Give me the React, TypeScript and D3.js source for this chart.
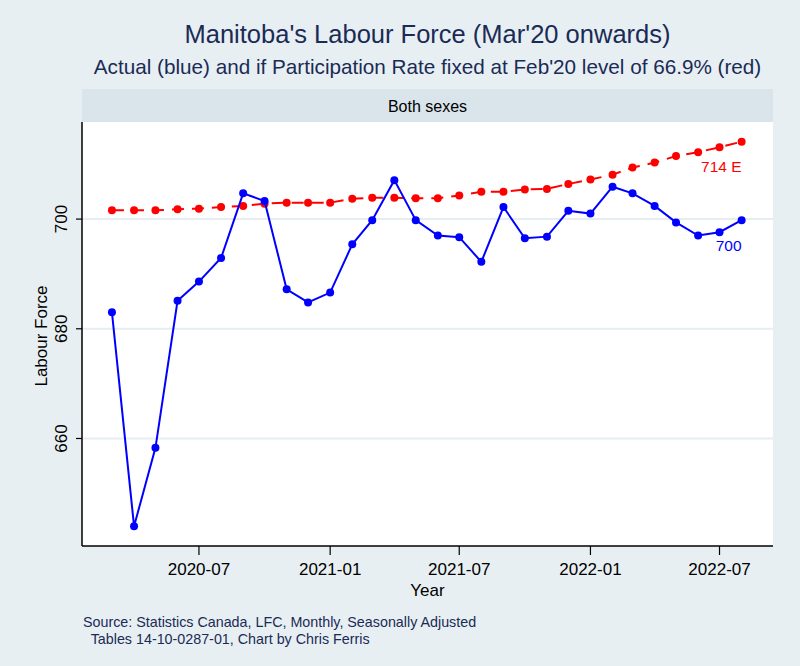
import React from 'react';
import * as d3 from 'd3';

// monthly observations, Mar 2020 .. Aug 2022
const months = [
  '2020-03', '2020-04', '2020-05', '2020-06', '2020-07', '2020-08', '2020-09', '2020-10',
  '2020-11', '2020-12', '2021-01', '2021-02', '2021-03', '2021-04', '2021-05', '2021-06',
  '2021-07', '2021-08', '2021-09', '2021-10', '2021-11', '2021-12', '2022-01', '2022-02',
  '2022-03', '2022-04', '2022-05', '2022-06', '2022-07', '2022-08',
];

// actual labour force (thousands)
const actual = [
  683.0, 644.0, 658.3, 685.1, 688.6, 692.9, 704.7, 703.3, 687.2, 684.8, 686.6, 695.4,
  699.8, 707.1, 699.8, 697.0, 696.7, 692.2, 702.2, 696.5, 696.8, 701.5, 701.0, 705.9,
  704.7, 702.4, 699.4, 697.0, 697.6, 699.8,
];

// labour force if participation rate fixed at Feb'20 level
const fixedRate = [
  701.6, 701.6, 701.6, 701.8, 701.9, 702.2, 702.4, 702.8, 703.0, 703.0, 703.0, 703.7,
  703.9, 703.9, 703.8, 703.8, 704.3, 705.0, 705.0, 705.4, 705.5, 706.4, 707.2, 708.1,
  709.4, 710.3, 711.5, 712.2, 713.1, 714.1,
];

const yTicks = [660, 680, 700];
const xTicks = ['2020-07', '2021-01', '2021-07', '2022-01', '2022-07'];

const title = "Manitoba's Labour Force (Mar'20 onwards)";
const subtitle = "Actual (blue) and if Participation Rate fixed at Feb'20 level of 66.9% (red)";
const stripLabel = 'Both sexes';
const sourceLines = [
  'Source: Statistics Canada, LFC, Monthly, Seasonally Adjusted',
  '  Tables 14-10-0287-01, Chart by Chris Ferris',
];

const W = 800;
const H = 666;
const FONT = '"Liberation Sans", Arial, Helvetica, sans-serif';
const NAVY = '#1a2b56';

const parseMonth = (s: string) => {
  const [y, m] = s.split('-').map(Number);
  return new Date(Date.UTC(y, m - 1, 1));
};

const App: React.FC = () => {
  const plot = { left: 82, right: 773, top: 122, bottom: 546 };

  const x = d3
    .scaleUtc()
    .domain([new Date(Date.UTC(2020, 0, 19)), new Date(Date.UTC(2022, 8, 14))])
    .range([plot.left, plot.right]);

  const y = d3.scaleLinear().domain([640.4, 717.7]).range([plot.bottom, plot.top]);

  const dates = months.map(parseMonth);
  const line = d3
    .line<number>()
    .x((_, i) => x(dates[i]))
    .y(d => y(d));

  const fmt = d3.utcFormat('%Y-%m');
  const cx = (plot.left + plot.right) / 2;
  const last = months.length - 1;

  return (
    <svg width={W} height={H} style={{ display: 'block', position: 'absolute', left: 0, top: 0 }} fontFamily={FONT}>
      <rect x={0} y={0} width={W} height={H} fill="#e8eff2" />

      <text x={cx} y={43} textAnchor="middle" fontSize={25.5} fill={NAVY}>{title}</text>
      <text x={cx} y={74} textAnchor="middle" fontSize={20.7} fill={NAVY}>{subtitle}</text>

      {/* facet strip */}
      <rect x={plot.left} y={89} width={plot.right - plot.left} height={plot.top - 89} fill="#d9e5eb" />
      <text x={cx} y={112} textAnchor="middle" fontSize={16} fill="#000">{stripLabel}</text>

      {/* plot region */}
      <rect x={plot.left} y={plot.top} width={plot.right - plot.left} height={plot.bottom - plot.top} fill="#fff" />

      {yTicks.map(t => (
        <line key={`g${t}`} x1={plot.left} x2={plot.right} y1={y(t)} y2={y(t)} stroke="#e6eef1" strokeWidth={2} />
      ))}

      {/* fixed participation rate series */}
      <path d={line(fixedRate) ?? ''} fill="none" stroke="#ff0000" strokeWidth={2} strokeDasharray="12,8" />
      {fixedRate.map((v, i) => (
        <circle key={`r${i}`} cx={x(dates[i])} cy={y(v)} r={4} fill="#ff0000" />
      ))}

      {/* actual series */}
      <path d={line(actual) ?? ''} fill="none" stroke="#0000ff" strokeWidth={2} />
      {actual.map((v, i) => (
        <circle key={`b${i}`} cx={x(dates[i])} cy={y(v)} r={4} fill="#0000ff" />
      ))}

      <text x={x(dates[last])} y={y(fixedRate[last]) + 30} textAnchor="end" fontSize={15.5} fill="#ff0000">
        {`${Math.round(fixedRate[last])} E`}
      </text>
      <text x={x(dates[last])} y={y(actual[last]) + 31} textAnchor="end" fontSize={15.5} fill="#0000ff">
        {`${Math.round(actual[last])}`}
      </text>

      {/* axes */}
      <line x1={plot.left} x2={plot.left} y1={plot.top} y2={plot.bottom} stroke="#000" strokeWidth={1.5} />
      <line x1={plot.left} x2={plot.right} y1={plot.bottom} y2={plot.bottom} stroke="#000" strokeWidth={1.5} />

      {yTicks.map(t => (
        <g key={`y${t}`}>
          <line x1={plot.left - 6} x2={plot.left} y1={y(t)} y2={y(t)} stroke="#000" strokeWidth={1.2} />
          <text
            transform={`translate(${plot.left - 15},${y(t)}) rotate(-90)`}
            textAnchor="middle"
            fontSize={17}
            fill="#000"
          >
            {t}
          </text>
        </g>
      ))}

      {xTicks.map(s => {
        const d = parseMonth(s);
        return (
          <g key={`x${s}`}>
            <line x1={x(d)} x2={x(d)} y1={plot.bottom} y2={plot.bottom + 9} stroke="#000" strokeWidth={1.2} />
            <text x={x(d)} y={575} textAnchor="middle" fontSize={17} fill="#000">{fmt(d)}</text>
          </g>
        );
      })}

      <text x={cx} y={596} textAnchor="middle" fontSize={17} fill="#000">Year</text>
      <text transform={`translate(47,${(plot.top + plot.bottom) / 2 + 2}) rotate(-90)`} textAnchor="middle" fontSize={17} fill="#000">
        Labour Force
      </text>

      {sourceLines.map((s, i) => (
        <text key={s} x={83} y={627 + i * 16.5} fontSize={14.3} fill={NAVY} style={{ whiteSpace: 'pre' }}>
          {s}
        </text>
      ))}
    </svg>
  );
};

export default App;
